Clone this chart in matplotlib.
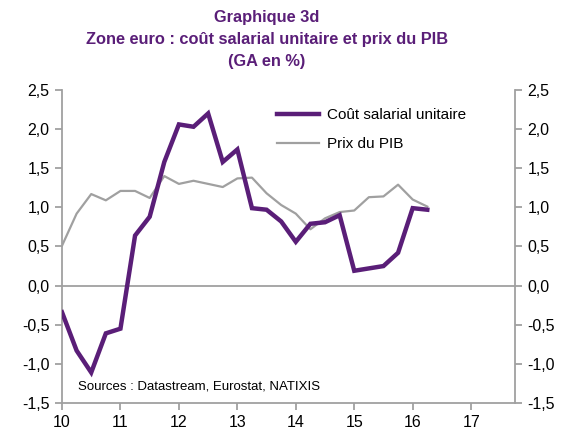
import matplotlib.pyplot as plt
import numpy as np

plt.rcParams['font.family'] = ['Liberation Sans', 'DejaVu Sans']

# trimestres 2010T1 - 2016T2
dates = 10 + np.arange(26) * 0.25

cout_salarial = [-0.34, -0.83, -1.11, -0.61, -0.55, 0.64, 0.88, 1.58, 2.06, 2.03,
                 2.20, 1.58, 1.74, 0.99, 0.97, 0.82, 0.56, 0.79, 0.81, 0.90,
                 0.19, 0.22, 0.25, 0.42, 0.99, 0.97]
prix_pib = [0.51, 0.92, 1.17, 1.09, 1.21, 1.21, 1.12, 1.40, 1.30, 1.34,
            1.30, 1.26, 1.37, 1.38, 1.18, 1.03, 0.92, 0.72, 0.86, 0.94,
            0.96, 1.13, 1.14, 1.29, 1.10, 1.01]

x_ticks = [10, 11, 12, 13, 14, 15, 16, 17]
y_ticks = [-1.5, -1.0, -0.5, 0.0, 0.5, 1.0, 1.5, 2.0, 2.5]

violet = '#5A1E78'
gris = '#A0A0A0'

fig = plt.figure(figsize=(5.72, 4.32), dpi=100)
ax = fig.add_axes([0.1084, 0.0671, 0.9003 - 0.1084, 0.7917 - 0.0671])

ax.axhline(0, color=gris, lw=1.3, zorder=1)
ax.plot(dates, cout_salarial, color=violet, lw=3.2, label='Coût salarial unitaire', zorder=3,
        solid_joinstyle='miter')
ax.plot(dates, prix_pib, color=gris, lw=1.6, label='Prix du PIB', zorder=2)

ax.set_xlim(10, 17.75)
ax.set_ylim(-1.5, 2.5)
ax.set_xticks(x_ticks)
ax.set_yticks(y_ticks)
labels = [f'{v:.1f}'.replace('.', ',') for v in y_ticks]
ax.set_yticklabels(labels)

ax.spines['top'].set_visible(False)
for s in ['left', 'right', 'bottom']:
    ax.spines[s].set_color(gris)
    ax.spines[s].set_linewidth(1.3)
ax.tick_params(axis='both', colors=gris, labelcolor='black', labelsize=11.5, length=5, width=1.3)
ax.tick_params(axis='y', right=True, labelright=True, pad=4)

ax.legend(loc='upper left', bbox_to_anchor=(0.445, 0.985), frameon=False, fontsize=11,
          handlelength=2.7, handletextpad=0.55, labelspacing=0.95)

ax.text(0.035, 0.035, 'Sources : Datastream, Eurostat, NATIXIS', transform=ax.transAxes,
        fontsize=9.5, va='bottom')

fig.text(0.467, 0.977, 'Graphique 3d\nZone euro : coût salarial unitaire et prix du PIB\n(GA en %)',
         ha='center', va='top', color=violet, fontsize=11.8, fontweight='bold', linespacing=1.6)

plt.savefig('out.png', dpi=100)
